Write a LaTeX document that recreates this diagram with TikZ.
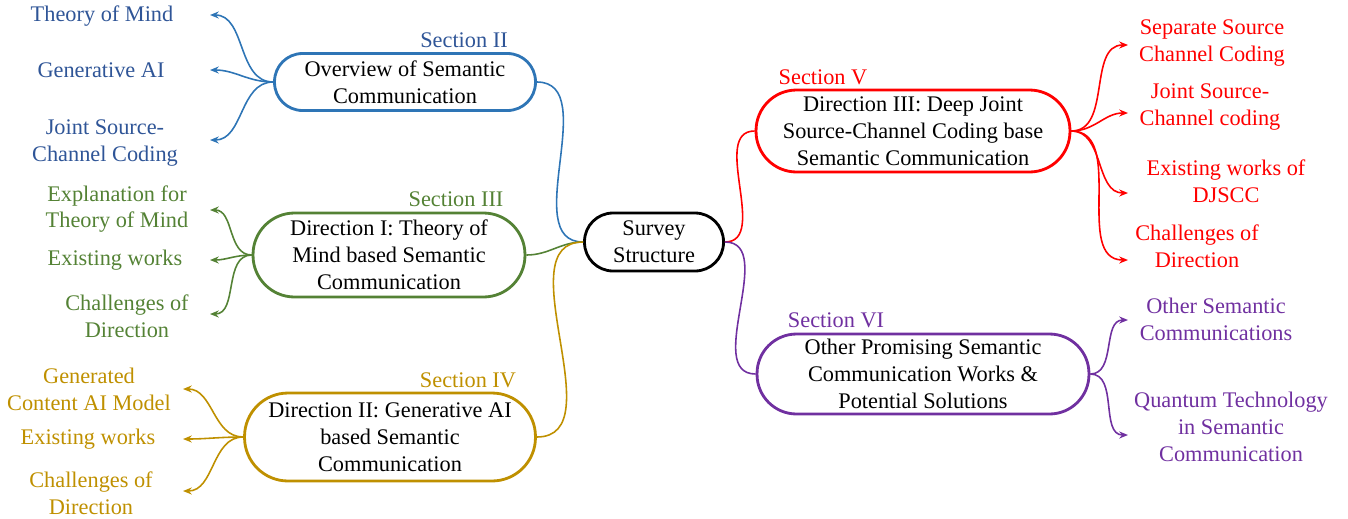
\documentclass[tikz,border=0pt]{standalone}
\usepackage{fontspec}
\setmainfont{Liberation Serif}
\usepackage{xcolor}
\usetikzlibrary{arrows.meta}

\definecolor{secblue}{HTML}{2E75B6}
\definecolor{secbluetext}{HTML}{2F5597}
\definecolor{secgreen}{HTML}{548235}
\definecolor{secgold}{HTML}{BF9000}
\definecolor{secred}{HTML}{FF0000}
\definecolor{secpurple}{HTML}{7030A0}

\begin{document}
\begin{tikzpicture}[x=0.02cm, y=-0.02cm,
  every node/.style={font=\fontsize{12.7}{15.3}\selectfont, align=center, inner sep=0pt},
  topic/.style={draw=#1, line width=1.6pt, text=black},
  link/.style={draw=#1, line width=0.9pt},
  branch/.style={draw=#1, line width=0.9pt, -{Stealth[length=5pt,width=4pt]}}]

  % Fix the picture size
  \useasboundingbox (0,0) rectangle (1348,518);

  % Centre and section boxes
  \node[topic=black, minimum width=2.78cm, minimum height=1.16cm, rounded corners=0.57cm] (survey) at (654,242) {Survey\\Structure};
  \node[topic=secblue, minimum width=5.22cm, minimum height=1.14cm, rounded corners=0.56cm] (overview) at (405,82) {Overview of Semantic\\Communication};
  \node[topic=secgreen, minimum width=5.44cm, minimum height=1.68cm, rounded corners=0.83cm] (dirone) at (389,255) {Direction I: Theory of\\Mind based Semantic\\Communication};
  \node[topic=secgold, minimum width=5.82cm, minimum height=1.76cm, rounded corners=0.87cm] (dirtwo) at (390,437) {Direction II: Generative AI\\based Semantic\\Communication};
  \node[topic=secred, minimum width=6.28cm, minimum height=1.64cm, rounded corners=0.81cm] (dirthree) at (913,131) {Direction III: Deep Joint\\Source-Channel Coding base\\Semantic Communication};
  \node[topic=secpurple, minimum width=6.64cm, minimum height=1.60cm, rounded corners=0.79cm] (other) at (923,374) {Other Promising Semantic\\Communication Works \&\\Potential Solutions};

  % Section labels
  \node[text=secbluetext] (secii) at (464,40) {Section II};
  \node[text=secgreen] (seciii) at (456,199) {Section III};
  \node[text=secgold] (seciv) at (468,380) {Section IV};
  \node[text=secred] (secv) at (823,77) {Section V};
  \node[text=secpurple] (secvi) at (836,320) {Section VI};

  % Leaves of Section II
  \node[text=secbluetext] (tom) at (102,16) {Theory of Mind};
  \node[text=secbluetext] (genai) at (101,70) {Generative AI};
  \node[text=secbluetext] (jscc) at (105,143) {Joint Source-\\Channel Coding};
  \coordinate (tomtip) at (210,15);
  \coordinate (genaitip) at (210,70);
  \coordinate (jscctip) at (210,140);

  % Leaves of Section III
  \node[text=secgreen] (explain) at (117,209) {Explanation for\\Theory of Mind};
  \node[text=secgreen] (existone) at (115,260) {Existing works};
  \node[text=secgreen] (chalone) at (127,316) {Challenges of\\Direction};
  \coordinate (explaintip) at (210,210);
  \coordinate (existonetip) at (210,260);
  \coordinate (chalonetip) at (210,314);

  % Leaves of Section IV
  \node[text=secgold] (gencont) at (89,389) {Generated\\Content AI Model};
  \node[text=secgold] (existtwo) at (88,439) {Existing works};
  \node[text=secgold] (chaltwo) at (91,493) {Challenges of\\Direction};
  \coordinate (gencontip) at (183,389);
  \coordinate (existtwotip) at (183,439);
  \coordinate (chaltwotip) at (183,491);

  % Leaves of Section V
  \node[text=secred] (sscc) at (1212,43) {Separate Source\\Channel Coding};
  \node[text=secred] (jsccv) at (1210,107) {Joint Source-\\Channel coding};
  \node[text=secred] (existthree) at (1226,181) {Existing works of\\DJSCC};
  \node[text=secred] (chalthree) at (1197,246) {Challenges of\\Direction};
  \coordinate (ssccttip) at (1128,45);
  \coordinate (jsccvtip) at (1128,113);
  \coordinate (existthreetip) at (1128,193);
  \coordinate (chalthreetip) at (1128,260);

  % Leaves of Section VI
  \node[text=secpurple] (othersem) at (1216,319) {Other Semantic\\Communications};
  \node[text=secpurple] (quantum) at (1231,427) {Quantum Technology\\in Semantic\\Communication};
  \coordinate (othersemtip) at (1128,320);
  \coordinate (quantumtip) at (1128,435);

  % Links to the centre
  \draw[link=secblue] (overview.east) to[out=0,in=180] (survey.west);
  \draw[link=secgreen] (dirone.east) to[out=0,in=180] (survey.west);
  \draw[link=secgold] (dirtwo.east) to[out=0,in=180] (survey.west);
  \draw[link=secred] (survey.east) to[out=0,in=180] (dirthree.west);
  \draw[link=secpurple] (survey.east) to[out=0,in=180] (other.west);

  % Branches
  \draw[branch=secblue] (overview.west) to[out=180,in=0] (tomtip);
  \draw[branch=secblue] (overview.west) to[out=180,in=0] (genaitip);
  \draw[branch=secblue] (overview.west) to[out=180,in=0] (jscctip);
  \draw[branch=secgreen] (dirone.west) to[out=180,in=0] (explaintip);
  \draw[branch=secgreen] (dirone.west) to[out=180,in=0] (existonetip);
  \draw[branch=secgreen] (dirone.west) to[out=180,in=0] (chalonetip);
  \draw[branch=secgold] (dirtwo.west) to[out=180,in=0] (gencontip);
  \draw[branch=secgold] (dirtwo.west) to[out=180,in=0] (existtwotip);
  \draw[branch=secgold] (dirtwo.west) to[out=180,in=0] (chaltwotip);
  \draw[branch=secred] (dirthree.east) to[out=0,in=180] (ssccttip);
  \draw[branch=secred] (dirthree.east) to[out=0,in=180] (jsccvtip);
  \draw[branch=secred] (dirthree.east) to[out=0,in=180] (existthreetip);
  \draw[branch=secred] (dirthree.east) to[out=0,in=180] (chalthreetip);
  \draw[branch=secpurple] (other.east) to[out=0,in=180] (othersemtip);
  \draw[branch=secpurple] (other.east) to[out=0,in=180] (quantumtip);
\end{tikzpicture}
\end{document}
